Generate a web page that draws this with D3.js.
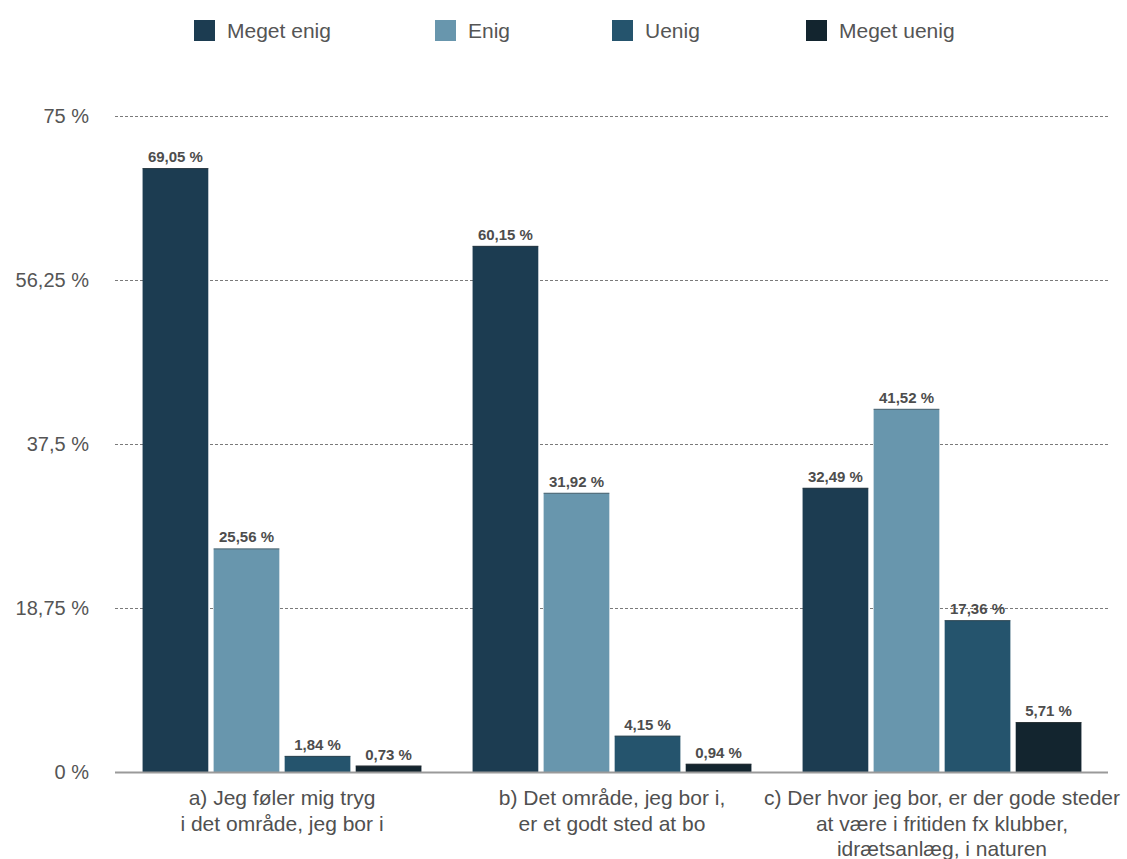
<!DOCTYPE html>
<html>
<head>
<meta charset="utf-8">
<script src="https://cdn.jsdelivr.net/npm/d3@7"></script>
<style>
  body { margin: 0; background: #fff; }
  svg { display: block; font-family: "Liberation Sans", Arial, Helvetica, sans-serif; }
</style>
</head>
<body>
<svg id="chart" width="1127" height="859"></svg>
<script>
// Survey statements (multi-line labels)
const categories = [
  ["a) Jeg føler mig tryg", "i det område, jeg bor i"],
  ["b) Det område, jeg bor i,", "er et godt sted at bo"],
  ["c) Der hvor jeg bor, er der gode steder", "at være i fritiden fx klubber,", "idrætsanlæg, i naturen"]
];
const seriesNames = ["Meget enig", "Enig", "Uenig", "Meget uenig"];
const seriesColors = ["#1c3c51", "#6896ad", "#25546d", "#13252f"];

// Percentages per statement, one array per answer
const megetEnig = [69.05, 60.15, 32.49];
const enig = [25.56, 31.92, 41.52];
const uenig = [1.84, 4.15, 17.36];
const megetUenig = [0.73, 0.94, 5.71];
const seriesValues = [megetEnig, enig, uenig, megetUenig];

const yTicks = [0, 18.75, 37.5, 56.25, 75];

const svg = d3.select("#chart");
const plotLeft = 115, plotRight = 1108, plotTop = 116, plotBottom = 772;

const fmt = v => String(v).replace(".", ",") + " %";
const fmt2 = v => v.toFixed(2).replace(".", ",") + " %";

const x0 = d3.scaleBand().domain(d3.range(categories.length))
  .range([117, 1107]).paddingInner(0.155).paddingOuter(0.0775);
const x1 = d3.scaleBand().domain(d3.range(seriesNames.length))
  .range([0, x0.bandwidth()]).paddingInner(0.075);
const y = d3.scaleLinear().domain([0, 75]).range([plotBottom, plotTop]);

// Gridlines
svg.append("g").selectAll("line").data(yTicks.filter(t => t > 0)).join("line")
  .attr("x1", plotLeft).attr("x2", plotRight)
  .attr("y1", d => y(d) + 0.5).attr("y2", d => y(d) + 0.5)
  .attr("stroke", "#7a7a7a").attr("stroke-width", 1)
  .attr("stroke-dasharray", "3,2");

// Y axis labels
svg.append("g").selectAll("text").data(yTicks).join("text")
  .attr("x", 89).attr("y", d => y(d))
  .attr("dy", "0.35em").attr("text-anchor", "end")
  .attr("font-size", 20).attr("fill", "#555")
  .text(d => fmt(d));

// Bars
const groups = svg.append("g").selectAll("g").data(categories).join("g")
  .attr("transform", (d, i) => `translate(${x0(i)},0)`);

groups.each(function(_, ci) {
  const g = d3.select(this);
  seriesValues.forEach((vals, si) => {
    const v = vals[ci];
    g.append("rect")
      .attr("x", x1(si)).attr("width", x1.bandwidth())
      .attr("y", y(v)).attr("height", y(0) - y(v))
      .attr("fill", seriesColors[si]);
    g.append("line")
      .attr("x1", x1(si)).attr("x2", x1(si) + x1.bandwidth())
      .attr("y1", y(v) + 0.5).attr("y2", y(v) + 0.5)
      .attr("stroke", "#3a3a3a").attr("stroke-opacity", 0.5);
    g.append("text")
      .attr("x", x1(si) + x1.bandwidth() / 2).attr("y", y(v) - 6)
      .attr("text-anchor", "middle")
      .attr("font-size", 15).attr("font-weight", 600).attr("fill", "#4d4d4d")
      .text(fmt2(v));
  });
});

// Baseline
svg.append("line")
  .attr("x1", plotLeft).attr("x2", plotRight)
  .attr("y1", plotBottom + 0.5).attr("y2", plotBottom + 0.5)
  .attr("stroke", "#9a9a9a").attr("stroke-width", 2);

// Category labels
const catG = svg.append("g");
categories.forEach((lines, i) => {
  const cx = x0(i) + x0.bandwidth() / 2;
  const t = catG.append("text")
    .attr("x", cx).attr("y", 805)
    .attr("text-anchor", "middle").attr("font-size", 21).attr("fill", "#505050");
  lines.forEach((ln, k) => {
    t.append("tspan").attr("x", cx)
      .attr("dy", k === 0 ? 0 : 25.5).text(ln);
  });
});

// Legend
const legendX = [194, 435, 612, 806];
const legend = svg.append("g").selectAll("g").data(seriesNames).join("g")
  .attr("transform", (d, i) => `translate(${legendX[i]},20)`);
legend.append("rect").attr("width", 21).attr("height", 21)
  .attr("fill", (d, i) => seriesColors[i]);
legend.append("text").attr("x", 33).attr("y", 10.5).attr("dy", "0.35em")
  .attr("font-size", 21).attr("fill", "#555").text(d => d);
</script>
</body>
</html>
